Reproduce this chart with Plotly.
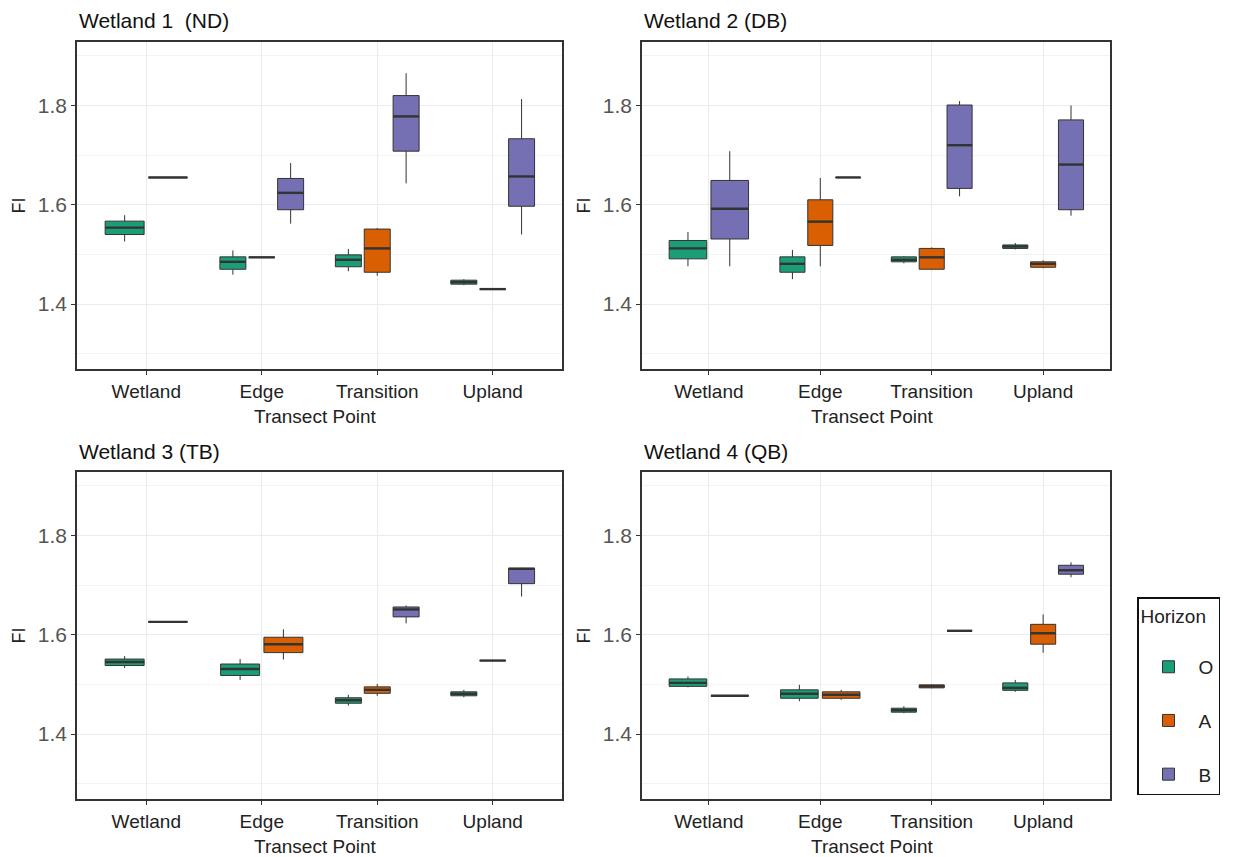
import plotly.graph_objects as go

# ---------------- data ----------------
categories = ["Wetland", "Edge", "Transition", "Upland"]
horizons = ["O", "A", "B"]
horizon_colors = ["#1B9E77", "#D95F02", "#7570B3"]
panel_titles = ["Wetland 1  (ND)", "Wetland 2 (DB)", "Wetland 3 (TB)", "Wetland 4 (QB)"]
y_ticks = [1.4, 1.6, 1.8]
y_minor = [1.3, 1.5, 1.7, 1.9]

# Wetland 1 (ND)
w1_cat = ["Wetland", "Wetland", "Edge", "Edge", "Edge", "Transition", "Transition", "Transition", "Upland", "Upland", "Upland"]
w1_hor = ["O", "B", "O", "A", "B", "O", "A", "B", "O", "A", "B"]
w1_low = [1.526, 1.655, 1.459, 1.494, 1.562, 1.466, 1.457, 1.643, 1.438, 1.430, 1.540]
w1_q1 = [1.540, 1.655, 1.470, 1.494, 1.590, 1.475, 1.464, 1.708, 1.440, 1.430, 1.597]
w1_med = [1.554, 1.655, 1.485, 1.494, 1.624, 1.489, 1.512, 1.778, 1.444, 1.430, 1.657]
w1_q3 = [1.567, 1.655, 1.495, 1.494, 1.653, 1.499, 1.551, 1.820, 1.448, 1.430, 1.733]
w1_up = [1.579, 1.655, 1.508, 1.494, 1.684, 1.511, 1.553, 1.865, 1.450, 1.430, 1.813]

# Wetland 2 (DB)
w2_cat = ["Wetland", "Wetland", "Edge", "Edge", "Edge", "Transition", "Transition", "Transition", "Upland", "Upland", "Upland"]
w2_hor = ["O", "B", "O", "A", "B", "O", "A", "B", "O", "A", "B"]
w2_low = [1.476, 1.476, 1.450, 1.476, 1.655, 1.482, 1.469, 1.617, 1.510, 1.472, 1.578]
w2_q1 = [1.491, 1.531, 1.464, 1.518, 1.655, 1.485, 1.470, 1.633, 1.512, 1.474, 1.590]
w2_med = [1.512, 1.592, 1.481, 1.566, 1.655, 1.489, 1.494, 1.720, 1.516, 1.481, 1.681]
w2_q3 = [1.528, 1.649, 1.495, 1.610, 1.655, 1.495, 1.512, 1.801, 1.519, 1.485, 1.771]
w2_up = [1.545, 1.708, 1.509, 1.654, 1.655, 1.496, 1.514, 1.809, 1.523, 1.488, 1.800]

# Wetland 3 (TB)
w3_cat = ["Wetland", "Wetland", "Edge", "Edge", "Transition", "Transition", "Transition", "Upland", "Upland", "Upland"]
w3_hor = ["O", "B", "O", "A", "O", "A", "B", "O", "A", "B"]
w3_low = [1.533, 1.626, 1.509, 1.550, 1.457, 1.477, 1.623, 1.474, 1.548, 1.677]
w3_q1 = [1.538, 1.626, 1.518, 1.564, 1.462, 1.482, 1.636, 1.477, 1.548, 1.703]
w3_med = [1.545, 1.626, 1.531, 1.581, 1.468, 1.489, 1.651, 1.481, 1.548, 1.733]
w3_q3 = [1.551, 1.626, 1.541, 1.595, 1.473, 1.495, 1.656, 1.485, 1.548, 1.734]
w3_up = [1.557, 1.626, 1.551, 1.611, 1.479, 1.501, 1.659, 1.489, 1.548, 1.735]

# Wetland 4 (QB)
w4_cat = ["Wetland", "Wetland", "Edge", "Edge", "Transition", "Transition", "Transition", "Upland", "Upland", "Upland"]
w4_hor = ["O", "A", "O", "A", "O", "A", "B", "O", "A", "B"]
w4_low = [1.494, 1.477, 1.466, 1.469, 1.442, 1.492, 1.608, 1.485, 1.564, 1.716]
w4_q1 = [1.496, 1.477, 1.472, 1.472, 1.444, 1.493, 1.608, 1.488, 1.581, 1.722]
w4_med = [1.503, 1.477, 1.481, 1.479, 1.448, 1.496, 1.608, 1.493, 1.603, 1.730]
w4_q3 = [1.511, 1.477, 1.489, 1.485, 1.452, 1.499, 1.608, 1.503, 1.621, 1.740]
w4_up = [1.516, 1.477, 1.499, 1.489, 1.456, 1.500, 1.608, 1.509, 1.641, 1.746]

panels = [
    (w1_cat, w1_hor, w1_low, w1_q1, w1_med, w1_q3, w1_up),
    (w2_cat, w2_hor, w2_low, w2_q1, w2_med, w2_q3, w2_up),
    (w3_cat, w3_hor, w3_low, w3_q1, w3_med, w3_q3, w3_up),
    (w4_cat, w4_hor, w4_low, w4_q1, w4_med, w4_q3, w4_up),
]

# ---------------- layout geometry (pixels) ----------------
W, H = 1237, 857
panel_px = [(77, 562, 42, 369), (642, 1110, 42, 369), (77, 562, 472, 799), (642, 1110, 472, 799)]
x_range = [-0.6, 3.6]
y_range = [1.269, 1.928]
DODGE = 0.75
PAD = 0.9
OUTLINE = "#333333"
FONT = "Liberation Sans, Arial, sans-serif"


def px_x(p):
    return p / W


def px_y(p):
    return 1 - p / H


fig = go.Figure()

# dodge positions (like ggplot position_dodge2)
layouts = []
for pi, (cat, hor, low, q1, med, q3, up) in enumerate(panels):
    pos, widths = [], []
    for i in range(len(cat)):
        present = [h for h in horizons if any(c == cat[i] and hh == h for c, hh in zip(cat, hor))]
        n = len(present)
        k = present.index(hor[i])
        slot = DODGE / n
        ci = categories.index(cat[i])
        pos.append(ci - DODGE / 2 + slot * (k + 0.5))
        widths.append(slot * PAD)
    layouts.append((pos, widths))

shown = set()
for hi, h in enumerate(horizons):
    for pi, (cat, hor, low, q1, med, q3, up) in enumerate(panels):
        pos, widths = layouts[pi]
        xa = "x" if pi == 0 else f"x{pi + 1}"
        ya = "y" if pi == 0 else f"y{pi + 1}"
        for i in range(len(cat)):
            if hor[i] != h:
                continue
            fig.add_trace(go.Box(
                x=[pos[i]], q1=[q1[i]], median=[med[i]], q3=[q3[i]],
                lowerfence=[low[i]], upperfence=[up[i]],
                width=widths[i], orientation="v",
                fillcolor=horizon_colors[hi],
                line=dict(color=OUTLINE, width=1),
                whiskerwidth=0, boxpoints=False,
                name=h, legendgroup=h, showlegend=(h not in shown),
                xaxis=xa, yaxis=ya, hoverinfo="y",
            ))
            shown.add(h)

# thicker median lines (ggplot fatten)
for pi, (cat, hor, low, q1, med, q3, up) in enumerate(panels):
    pos, widths = layouts[pi]
    xs, ys = [], []
    for i in range(len(cat)):
        xs += [pos[i] - widths[i] / 2, pos[i] + widths[i] / 2, None]
        ys += [med[i], med[i], None]
    fig.add_trace(go.Scatter(
        x=xs, y=ys, mode="lines", line=dict(color=OUTLINE, width=2.4),
        showlegend=False, hoverinfo="skip",
        xaxis="x" if pi == 0 else f"x{pi + 1}",
        yaxis="y" if pi == 0 else f"y{pi + 1}",
    ))

annotations = []
layout_axes = {}
for pi, (l, r, t, b) in enumerate(panel_px):
    xname = "xaxis" if pi == 0 else f"xaxis{pi + 1}"
    yname = "yaxis" if pi == 0 else f"yaxis{pi + 1}"
    layout_axes[xname] = dict(
        domain=[px_x(l), px_x(r)], range=x_range,
        anchor="y" if pi == 0 else f"y{pi + 1}",
        tickvals=list(range(len(categories))), ticktext=categories,
        showgrid=True, gridcolor="#ebebeb", gridwidth=1,
        showline=True, mirror=True, linecolor=OUTLINE, linewidth=1.5,
        ticks="outside", ticklen=4, tickcolor=OUTLINE,
        tickfont=dict(family=FONT, size=19, color="#222222"),
        zeroline=False, fixedrange=True,
    )
    layout_axes[yname] = dict(
        domain=[px_y(b), px_y(t)], range=y_range,
        anchor="x" if pi == 0 else f"x{pi + 1}",
        tickvals=y_ticks, ticktext=[f"{v:.1f}" for v in y_ticks],
        showgrid=True, gridcolor="#ebebeb", gridwidth=1,
        minor=dict(tickvals=y_minor, showgrid=True, gridcolor="#f3f3f3", gridwidth=1, ticks=""),
        showline=True, mirror=True, linecolor=OUTLINE, linewidth=1.5,
        ticks="outside", ticklen=4, tickcolor=OUTLINE,
        tickfont=dict(family=FONT, size=21, color="#555555"),
        zeroline=False, fixedrange=True,
    )
    # panel title
    annotations.append(dict(
        text=panel_titles[pi], x=px_x(l), y=px_y(t - 21), xref="paper", yref="paper",
        xanchor="left", yanchor="middle", showarrow=False,
        font=dict(family=FONT, size=21, color="#111111"),
    ))
    # x-axis title
    annotations.append(dict(
        text="Transect Point", x=px_x((l + r) / 2 - 4), y=px_y(b + 47), xref="paper", yref="paper",
        xanchor="center", yanchor="middle", showarrow=False,
        font=dict(family=FONT, size=19, color="#222222"),
    ))
    # y-axis title
    annotations.append(dict(
        text="FI", x=px_x(l - 59), y=px_y((t + b) / 2), xref="paper", yref="paper",
        xanchor="center", yanchor="middle", showarrow=False, textangle=-90,
        font=dict(family=FONT, size=18, color="#222222"),
    ))

fig.update_layout(
    width=W, height=H, margin=dict(l=0, r=0, t=0, b=0),
    paper_bgcolor="white", plot_bgcolor="white",
    boxmode="overlay",
    annotations=annotations,
    legend=dict(
        title=dict(text="Horizon<br> ", font=dict(size=19, color="#222222")),
        x=px_x(1137), y=px_y(597), xanchor="left", yanchor="top",
        bordercolor="#111111", borderwidth=1.5, bgcolor="white",
        font=dict(family=FONT, size=19, color="#222222"),
        traceorder="grouped", tracegroupgap=26,
        itemwidth=50,
    ),
    font=dict(family=FONT),
    **layout_axes,
)

fig.write_html("out.html")
